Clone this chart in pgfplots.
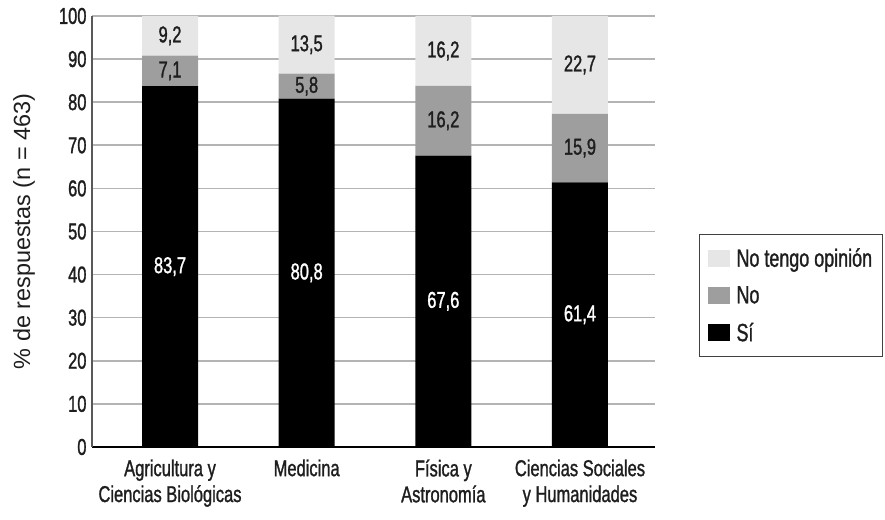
\documentclass[border=0pt]{standalone}
\usepackage{pgfplots}
\usepackage{pgfplotstable}
\pgfplotsset{compat=1.18}
\usepackage{fontspec}
\setmainfont{Liberation Sans}[FakeStretch=0.72, FakeBold=1.2]
\newfontfamily\ylf{Liberation Sans}
\newcommand{\cf}{\fontsize{23}{26}\selectfont}
\newcommand{\lf}{\fontsize{25}{28}\selectfont}
\definecolor{lgray}{HTML}{E6E6E6}
\definecolor{mgray}{HTML}{9E9E9E}
\definecolor{gridc}{HTML}{B4B4B4}
\definecolor{txt}{HTML}{1E1E1E}
\pgfplotstableread{
x si no nop
0 83.7 7.1 9.2
1 80.8 5.8 13.5
2 67.6 16.2 16.2
3 61.4 15.9 22.7
}\data
\begin{document}
\begin{tikzpicture}[font=\cf]
\useasboundingbox (0,0) rectangle (885bp,520bp);
\pgfplotsset{
  common/.style={
    at={(92bp,73bp)}, anchor=south west,
    scale only axis, width=563bp, height=431bp,
    xmin=-0.571, xmax=3.549, ymin=0, ymax=100,
  }
}
\begin{axis}[common,
  ybar stacked, bar width=56bp,
  axis x line*=bottom, axis y line*=left,
  x axis line style={-, black, line width=1.6bp},
  y axis line style={-, black!65, line width=1.3bp},
  xtick={0,1,2,3},
  xticklabels={{Agricultura y\\Ciencias Biológicas},{Medicina},{Física y\\Astronomía},{Ciencias Sociales\\y Humanidades}},
  xticklabel style={align=center, font=\cf, text=txt, yshift=-9bp},
  ytick={0,10,...,100},
  yticklabel style={font=\cf, text=txt, xshift=-2bp},
  /pgf/number format/assume math mode=true,
  major tick length=0pt,
  ymajorgrids, grid style={gridc, line width=1.6bp},
  ylabel={\% de respuestas (n = 463)},
  every axis y label/.style={at={(axis description cs:-0.1208,0.5)}, rotate=90, anchor=center,
    font=\ylf\fontsize{23.5}{26}\selectfont, text=txt},
  reverse legend,
  legend style={at={(1.078,0.3515)}, anchor=west, draw=black!75, line width=1.2bp,
    font=\lf, text=txt, inner xsep=8bp, inner ysep=12bp, row sep=14bp,
    /tikz/every odd column/.append style={column sep=5bp}},
  legend cell align=left,
  legend image code/.code={\fill[#1] (0bp,-8.5bp) rectangle (22bp,8.5bp);},
]
\addplot[fill=black, draw=none] table[x=x, y=si] {\data};
\addplot[fill=mgray, draw=none] table[x=x, y=no] {\data};
\addplot[fill=lgray, draw=none] table[x=x, y=nop] {\data};
\legend{Sí, No, No tengo opinión}
\end{axis}
\begin{axis}[common, hide axis,
  point meta=explicit,
  nodes near coords,
  nodes near coords style={anchor=center, font=\cf},
  /pgf/number format/use comma,
  /pgf/number format/fixed,
  /pgf/number format/fixed zerofill,
  /pgf/number format/precision=1,
  /pgf/number format/assume math mode=true,
]
\addplot[only marks, mark=none, nodes near coords style={text=white}]
  table[x=x, y expr=\thisrow{si}/2, meta=si] {\data};
\addplot[only marks, mark=none, nodes near coords style={text=txt}]
  table[x=x, y expr=\thisrow{si}+\thisrow{no}/2, meta=no] {\data};
\addplot[only marks, mark=none, nodes near coords style={text=txt}]
  table[x=x, y expr=\thisrow{si}+\thisrow{no}+\thisrow{nop}/2, meta=nop] {\data};
\end{axis}
\end{tikzpicture}
\end{document}
